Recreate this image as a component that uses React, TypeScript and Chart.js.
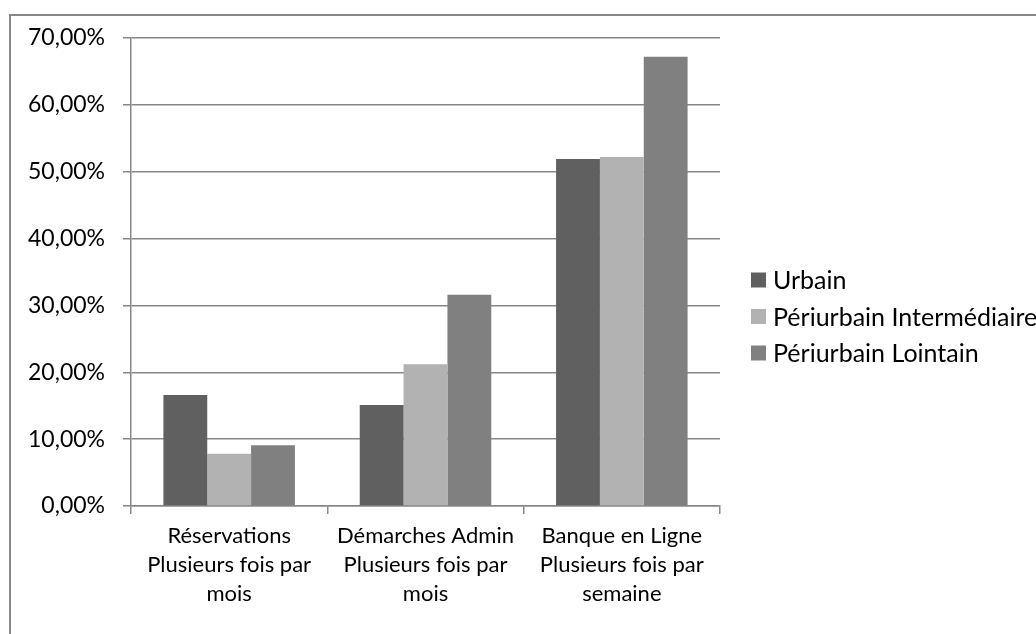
import React, { useEffect, useRef } from "react";
import { Chart, registerables } from "chart.js";

Chart.register(...registerables);

const categories: string[][] = [
  ["Réservations", "Plusieurs fois par", "mois"],
  ["Démarches Admin", "Plusieurs fois par", "mois"],
  ["Banque en Ligne", "Plusieurs fois par", "semaine"],
];
const seriesNames = ["Urbain", "Périurbain Intermédiaire", "Périurbain Lointain"];
const urbain = [16.6, 15.1, 51.9];
const periIntermediaire = [7.8, 21.2, 52.2];
const periLointain = [9.1, 31.6, 67.2];
const seriesColors = ["#606060", "#b2b2b2", "#808080"];
const yMax = 70;
const yStep = 10;

const FONT = "Lato, 'Open Sans', sans-serif";
const LINE = "#878787";

const framePlugin = {
  id: "frame",
  beforeDraw(chart: any) {
    const ctx = chart.ctx;
    ctx.save();
    ctx.fillStyle = "#ffffff";
    ctx.fillRect(0, 0, chart.width, chart.height);
    ctx.strokeStyle = LINE;
    ctx.lineWidth = 2;
    ctx.beginPath();
    ctx.moveTo(10, chart.height);
    ctx.lineTo(10, 15);
    ctx.lineTo(chart.width, 15);
    ctx.stroke();
    ctx.restore();
  },
};

const legendPlugin = {
  id: "sideLegend",
  afterDraw(chart: any) {
    const ctx = chart.ctx;
    ctx.save();
    ctx.font = `25px ${FONT}`;
    ctx.textBaseline = "middle";
    ctx.textAlign = "left";
    chart.data.datasets.forEach((ds: any, i: number) => {
      const y = 280 + i * 36.5;
      ctx.fillStyle = ds.backgroundColor;
      ctx.fillRect(751, y - 7.5, 15, 15);
      ctx.fillStyle = "#000000";
      ctx.fillText(ds.label, 773, y + 1);
    });
    ctx.restore();
  },
};

export default function App() {
  const ref = useRef<HTMLCanvasElement | null>(null);

  useEffect(() => {
    let chart: Chart | null = null;
    let cancelled = false;
    const make = () => {
      if (cancelled || !ref.current) return;
      const values = [urbain, periIntermediaire, periLointain];
      chart = new Chart(ref.current, {
        type: "bar",
        data: {
          labels: categories as any,
          datasets: seriesNames.map((name, i) => ({
            label: name,
            data: values[i],
            backgroundColor: seriesColors[i],
            borderWidth: 0,
            categoryPercentage: 0.67,
            barPercentage: 1.0,
          })),
        },
        options: {
          responsive: false,
          animation: false,
          devicePixelRatio: 1,
          layout: { padding: { left: 0, top: 38, right: 316, bottom: 0 } },
          plugins: {
            legend: { display: false },
            tooltip: { enabled: false },
            title: { display: false },
          },
          scales: {
            x: {
              offset: true,
              grid: {
                offset: true,
                drawOnChartArea: false,
                drawTicks: true,
                tickLength: 8,
                color: LINE,
                lineWidth: 1.5,
              },
              border: { display: true, color: LINE, width: 1.5 },
              ticks: {
                color: "#000000",
                font: { family: FONT, size: 22, lineHeight: 1.32 },
                padding: 7,
                maxRotation: 0,
                autoSkip: false,
              },
              afterFit(scale: any) {
                scale.height = 128;
              },
            },
            y: {
              min: 0,
              max: yMax,
              grid: {
                color: LINE,
                lineWidth: 1.5,
                drawTicks: true,
                tickLength: 8,
              },
              border: { display: true, color: LINE, width: 1.5 },
              ticks: {
                stepSize: yStep,
                color: "#000000",
                font: { family: FONT, size: 23 },
                padding: 18,
                callback: (v: any) => Number(v).toFixed(2).replace(".", ",") + "%",
              },
              afterFit(scale: any) {
                scale.width = 131;
              },
            },
          },
        },
        plugins: [framePlugin, legendPlugin],
      });
    };
    const fontsApi = (document as any).fonts;
    if (fontsApi && fontsApi.load) {
      fontsApi.load(`22px Lato`).then(make, make);
    } else {
      make();
    }
    return () => {
      cancelled = true;
      if (chart) chart.destroy();
    };
  }, []);

  return (
    <div style={{ position: "absolute", left: 0, top: 0, width: 1036, height: 634, background: "#fff" }}>
      <canvas ref={ref} width={1036} height={634} style={{ width: 1036, height: 634, display: "block" }} />
    </div>
  );
}
